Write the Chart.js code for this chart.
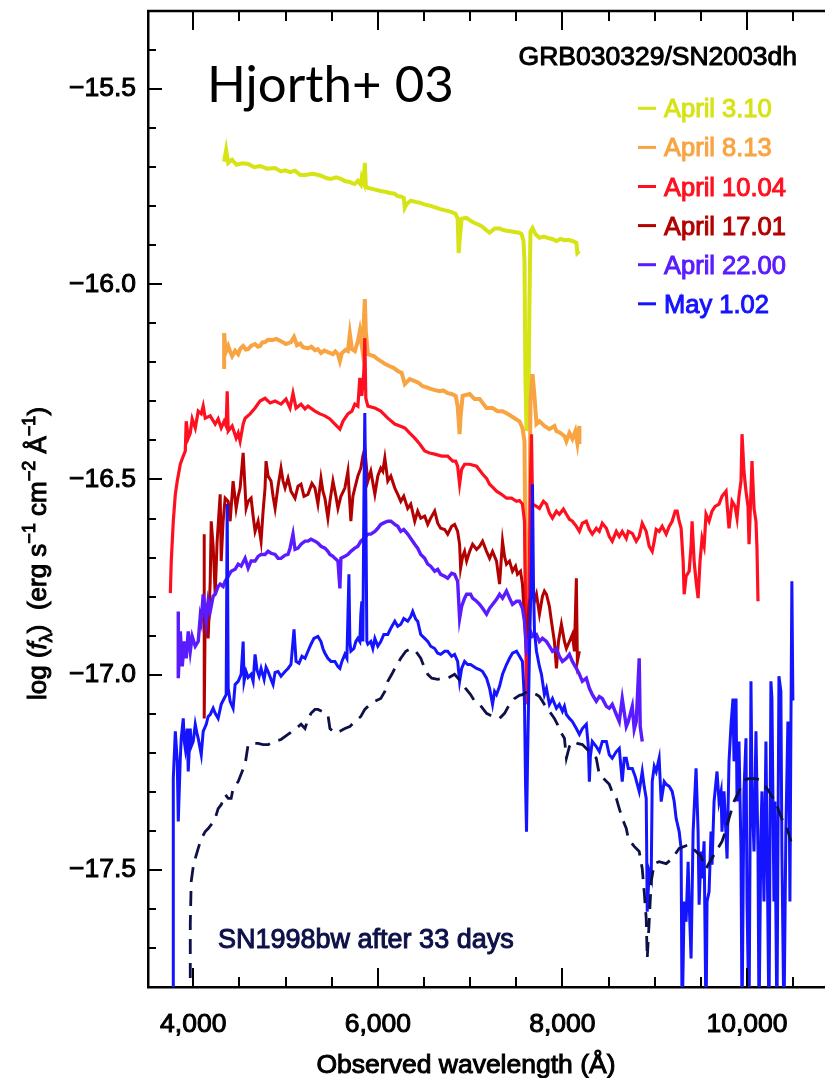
<!DOCTYPE html>
<html>
<head>
<meta charset="utf-8">
<script src="https://cdn.jsdelivr.net/npm/chart.js@4.4.1/dist/chart.umd.min.js"></script>
<style>
  html, body { margin: 0; padding: 0; background: #fff; overflow: hidden; }
  #wrap { position: relative; width: 825px; height: 1078px; }
</style>
</head>
<body>
<div id="wrap"><canvas id="spectra" width="825" height="1078"></canvas></div>
<script>
// Spectra of GRB030329 / SN2003dh, [wavelength (A), log f_lambda]
const specApr03 = [[4335,-15.686],[4357,-15.656],[4379,-15.689],[4420,-15.681],[4470,-15.694],[4530,-15.690],[4595,-15.692],[4660,-15.700],[4724,-15.697],[4800,-15.704],[4887,-15.702],[4950,-15.711],[4995,-15.708],[5050,-15.713],[5103,-15.709],[5160,-15.720],[5211,-15.720],[5300,-15.717],[5384,-15.722],[5440,-15.728],[5492,-15.730],[5550,-15.726],[5600,-15.730],[5650,-15.736],[5697,-15.738],[5730,-15.742],[5751,-15.743],[5784,-15.735],[5816,-15.745],[5827,-15.726],[5849,-15.740],[5859,-15.689],[5870,-15.748],[5892,-15.753],[5960,-15.757],[6032,-15.761],[6080,-15.763],[6130,-15.766],[6180,-15.768],[6216,-15.774],[6260,-15.776],[6281,-15.779],[6292,-15.804],[6314,-15.794],[6357,-15.786],[6410,-15.789],[6454,-15.791],[6510,-15.796],[6573,-15.799],[6620,-15.803],[6670,-15.807],[6720,-15.810],[6757,-15.812],[6800,-15.815],[6843,-15.820],[6865,-15.832],[6876,-15.920],[6886,-15.889],[6908,-15.832],[6962,-15.830],[7010,-15.838],[7049,-15.843],[7100,-15.848],[7135,-15.853],[7180,-15.862],[7211,-15.868],[7240,-15.862],[7265,-15.857],[7319,-15.857],[7360,-15.861],[7394,-15.863],[7440,-15.864],[7481,-15.866],[7530,-15.868],[7557,-15.871],[7578,-15.889],[7589,-15.940],[7600,-16.250],[7611,-16.376],[7632,-16.325],[7643,-16.043],[7654,-15.865],[7676,-15.856],[7710,-15.872],[7751,-15.881],[7800,-15.878],[7838,-15.881],[7890,-15.884],[7935,-15.889],[7980,-15.884],[8022,-15.887],[8060,-15.886],[8108,-15.889],[8151,-15.894],[8162,-15.920],[8184,-15.915]];

const specApr08 = [[4335,-16.217],[4335,-16.125],[4346,-16.160],[4357,-16.171],[4379,-16.158],[4400,-16.172],[4422,-16.184],[4454,-16.170],[4487,-16.179],[4510,-16.165],[4541,-16.158],[4570,-16.167],[4595,-16.166],[4630,-16.157],[4670,-16.153],[4700,-16.160],[4724,-16.158],[4750,-16.149],[4778,-16.148],[4810,-16.142],[4854,-16.143],[4900,-16.140],[4951,-16.146],[5005,-16.153],[5059,-16.148],[5092,-16.135],[5124,-16.156],[5160,-16.152],[5189,-16.161],[5243,-16.164],[5280,-16.160],[5319,-16.169],[5350,-16.166],[5384,-16.176],[5420,-16.170],[5459,-16.174],[5514,-16.179],[5540,-16.172],[5568,-16.179],[5589,-16.197],[5611,-16.176],[5650,-16.168],[5676,-16.171],[5697,-16.127],[5719,-16.166],[5751,-16.171],[5784,-16.146],[5805,-16.120],[5827,-16.158],[5849,-16.094],[5859,-16.038],[5870,-16.120],[5892,-16.179],[5930,-16.182],[5957,-16.184],[6000,-16.192],[6032,-16.197],[6080,-16.204],[6130,-16.210],[6170,-16.214],[6216,-16.222],[6259,-16.227],[6292,-16.256],[6346,-16.243],[6400,-16.248],[6440,-16.252],[6486,-16.261],[6530,-16.264],[6573,-16.268],[6620,-16.271],[6670,-16.274],[6710,-16.272],[6757,-16.279],[6800,-16.281],[6843,-16.286],[6865,-16.312],[6886,-16.384],[6897,-16.337],[6919,-16.286],[6995,-16.281],[7049,-16.294],[7103,-16.294],[7140,-16.305],[7178,-16.317],[7243,-16.317],[7297,-16.325],[7351,-16.325],[7390,-16.330],[7427,-16.335],[7481,-16.343],[7535,-16.351],[7567,-16.368],[7589,-16.402],[7600,-16.709],[7611,-16.915],[7622,-16.940],[7643,-16.607],[7654,-16.299],[7676,-16.230],[7697,-16.286],[7719,-16.358],[7751,-16.351],[7805,-16.363],[7859,-16.371],[7913,-16.363],[7935,-16.376],[7978,-16.381],[8022,-16.389],[8043,-16.402],[8076,-16.381],[8108,-16.396],[8140,-16.376],[8162,-16.407],[8184,-16.363],[8184,-16.409]];

const specApr10 = [[3752,-16.791],[3762,-16.709],[3784,-16.607],[3806,-16.538],[3827,-16.504],[3860,-16.461],[3892,-16.440],[3914,-16.427],[3924,-16.351],[3946,-16.394],[3968,-16.381],[3989,-16.345],[4022,-16.368],[4054,-16.325],[4087,-16.332],[4108,-16.312],[4130,-16.343],[4184,-16.337],[4238,-16.358],[4270,-16.345],[4303,-16.368],[4335,-16.351],[4357,-16.363],[4368,-16.274],[4379,-16.376],[4422,-16.363],[4465,-16.394],[4487,-16.381],[4508,-16.402],[4541,-16.358],[4562,-16.343],[4616,-16.332],[4670,-16.317],[4724,-16.299],[4778,-16.292],[4833,-16.304],[4887,-16.299],[4951,-16.307],[5005,-16.294],[5049,-16.317],[5081,-16.279],[5114,-16.317],[5168,-16.307],[5211,-16.319],[5243,-16.312],[5319,-16.325],[5373,-16.332],[5427,-16.337],[5481,-16.345],[5535,-16.358],[5589,-16.371],[5622,-16.351],[5676,-16.332],[5719,-16.325],[5751,-16.307],[5784,-16.312],[5805,-16.240],[5827,-16.286],[5849,-16.222],[5859,-16.138],[5870,-16.292],[5892,-16.312],[5968,-16.317],[6032,-16.325],[6108,-16.343],[6184,-16.358],[6238,-16.363],[6292,-16.368],[6346,-16.381],[6400,-16.394],[6454,-16.409],[6508,-16.427],[6562,-16.432],[6616,-16.435],[6692,-16.440],[6757,-16.440],[6811,-16.453],[6843,-16.453],[6865,-16.466],[6886,-16.512],[6908,-16.474],[6940,-16.461],[6995,-16.461],[7070,-16.466],[7135,-16.486],[7178,-16.497],[7211,-16.512],[7254,-16.522],[7286,-16.530],[7340,-16.538],[7394,-16.548],[7449,-16.548],[7503,-16.556],[7535,-16.554],[7567,-16.563],[7589,-16.607],[7600,-16.812],[7611,-17.076],[7622,-17.043],[7643,-16.709],[7654,-16.504],[7665,-16.384],[7676,-16.563],[7719,-16.569],[7751,-16.574],[7794,-16.556],[7827,-16.563],[7859,-16.586],[7892,-16.599],[7935,-16.581],[7967,-16.589],[8011,-16.576],[8043,-16.589],[8076,-16.602],[8108,-16.607],[8151,-16.620],[8184,-16.633],[8216,-16.612],[8259,-16.607],[8292,-16.628],[8324,-16.640],[8367,-16.625],[8400,-16.633],[8432,-16.612],[8476,-16.625],[8508,-16.646],[8540,-16.658],[8584,-16.633],[8616,-16.646],[8648,-16.633],[8692,-16.651],[8714,-16.633],[8757,-16.638],[8800,-16.658],[8832,-16.646],[8865,-16.612],[8908,-16.633],[8940,-16.671],[8973,-16.684],[8995,-16.658],[9016,-16.628],[9048,-16.633],[9081,-16.620],[9124,-16.640],[9157,-16.620],[9189,-16.607],[9222,-16.581],[9243,-16.581],[9265,-16.607],[9286,-16.625],[9308,-16.709],[9319,-16.794],[9340,-16.748],[9373,-16.735],[9394,-16.671],[9405,-16.607],[9427,-16.709],[9448,-16.761],[9470,-16.804],[9491,-16.709],[9513,-16.651],[9535,-16.671],[9556,-16.589],[9589,-16.607],[9621,-16.581],[9654,-16.569],[9697,-16.563],[9729,-16.543],[9773,-16.530],[9805,-16.625],[9838,-16.556],[9870,-16.569],[9892,-16.599],[9913,-16.543],[9935,-16.504],[9946,-16.384],[9967,-16.479],[9989,-16.530],[10011,-16.569],[10022,-16.666],[10043,-16.530],[10054,-16.453],[10076,-16.574],[10097,-16.607],[10108,-16.676],[10119,-16.812]];

const specApr17 = [[4119,-16.640],[4119,-17.112],[4130,-16.838],[4141,-16.830],[4162,-16.907],[4184,-16.761],[4195,-16.607],[4216,-16.671],[4238,-16.794],[4259,-16.658],[4292,-16.538],[4303,-16.709],[4324,-16.607],[4346,-16.548],[4379,-16.556],[4400,-16.607],[4432,-16.504],[4465,-16.574],[4487,-16.543],[4508,-16.522],[4541,-16.432],[4573,-16.574],[4595,-16.556],[4627,-16.548],[4649,-16.594],[4670,-16.633],[4703,-16.607],[4735,-16.658],[4757,-16.581],[4778,-16.522],[4789,-16.453],[4811,-16.491],[4843,-16.504],[4865,-16.543],[4887,-16.574],[4919,-16.517],[4951,-16.471],[4973,-16.504],[4995,-16.522],[5027,-16.497],[5059,-16.530],[5103,-16.548],[5135,-16.517],[5168,-16.512],[5200,-16.543],[5243,-16.538],[5286,-16.510],[5319,-16.522],[5351,-16.563],[5384,-16.497],[5405,-16.530],[5427,-16.548],[5459,-16.599],[5481,-16.556],[5514,-16.504],[5546,-16.543],[5568,-16.574],[5600,-16.543],[5643,-16.522],[5676,-16.479],[5708,-16.607],[5730,-16.543],[5751,-16.522],[5784,-16.491],[5816,-16.471],[5838,-16.440],[5859,-16.420],[5881,-16.479],[5892,-16.504],[5924,-16.479],[5968,-16.538],[6000,-16.491],[6032,-16.471],[6054,-16.479],[6076,-16.445],[6108,-16.504],[6141,-16.491],[6184,-16.522],[6216,-16.538],[6249,-16.556],[6281,-16.543],[6324,-16.574],[6357,-16.563],[6400,-16.607],[6432,-16.581],[6465,-16.599],[6508,-16.594],[6541,-16.615],[6573,-16.599],[6616,-16.581],[6649,-16.612],[6681,-16.625],[6724,-16.628],[6757,-16.640],[6800,-16.620],[6832,-16.615],[6865,-16.633],[6886,-16.666],[6897,-16.727],[6919,-16.697],[6940,-16.684],[6962,-16.709],[6995,-16.684],[7027,-16.666],[7070,-16.679],[7103,-16.671],[7135,-16.658],[7178,-16.684],[7211,-16.702],[7243,-16.684],[7286,-16.709],[7319,-16.768],[7351,-16.658],[7373,-16.697],[7394,-16.717],[7427,-16.709],[7459,-16.735],[7492,-16.722],[7513,-16.743],[7546,-16.735],[7567,-16.768],[7589,-16.856],[7611,-16.940],[7622,-16.863],[7643,-16.812],[7676,-16.786],[7697,-16.812],[7719,-16.794],[7751,-16.845],[7784,-16.799],[7805,-16.786],[7827,-16.794],[7859,-16.825],[7881,-16.863],[7913,-16.915],[7935,-16.984],[7957,-16.915],[7989,-16.871],[8022,-16.915],[8043,-16.933],[8076,-16.915],[8108,-16.897],[8130,-16.940],[8151,-16.753],[8162,-16.966],[8184,-16.940]];

const specApr22 = [[3838,-16.838],[3838,-17.009],[3860,-16.889],[3881,-16.979],[3903,-16.915],[3924,-16.958],[3946,-16.889],[3968,-16.940],[3989,-16.902],[4022,-16.927],[4054,-16.915],[4076,-16.851],[4087,-16.863],[4108,-16.794],[4130,-16.838],[4141,-16.863],[4162,-16.812],[4184,-16.838],[4216,-16.799],[4238,-16.794],[4270,-16.774],[4292,-16.768],[4324,-16.774],[4346,-16.761],[4379,-16.748],[4411,-16.735],[4454,-16.730],[4487,-16.717],[4519,-16.722],[4562,-16.702],[4595,-16.727],[4627,-16.709],[4670,-16.709],[4703,-16.697],[4735,-16.692],[4778,-16.692],[4811,-16.684],[4843,-16.689],[4887,-16.692],[4919,-16.702],[4951,-16.702],[4995,-16.694],[5027,-16.692],[5049,-16.676],[5081,-16.640],[5103,-16.679],[5135,-16.676],[5168,-16.666],[5211,-16.658],[5243,-16.658],[5276,-16.653],[5319,-16.658],[5351,-16.663],[5384,-16.671],[5427,-16.676],[5459,-16.684],[5481,-16.692],[5514,-16.697],[5535,-16.702],[5568,-16.709],[5589,-16.779],[5600,-16.702],[5643,-16.697],[5676,-16.692],[5708,-16.684],[5751,-16.676],[5784,-16.671],[5816,-16.658],[5849,-16.651],[5892,-16.640],[5924,-16.640],[5968,-16.633],[6000,-16.625],[6032,-16.615],[6076,-16.610],[6108,-16.607],[6141,-16.607],[6184,-16.615],[6216,-16.620],[6249,-16.633],[6281,-16.628],[6324,-16.640],[6357,-16.651],[6400,-16.666],[6432,-16.676],[6465,-16.692],[6508,-16.702],[6541,-16.717],[6573,-16.722],[6616,-16.735],[6649,-16.730],[6681,-16.743],[6724,-16.748],[6757,-16.753],[6800,-16.740],[6832,-16.743],[6865,-16.761],[6886,-16.856],[6908,-16.825],[6940,-16.804],[6962,-16.794],[7005,-16.794],[7027,-16.804],[7070,-16.812],[7103,-16.820],[7135,-16.830],[7178,-16.845],[7211,-16.830],[7243,-16.820],[7286,-16.807],[7319,-16.794],[7351,-16.804],[7394,-16.786],[7427,-16.804],[7459,-16.820],[7503,-16.812],[7535,-16.812],[7567,-16.830],[7589,-16.863],[7611,-16.940],[7632,-16.928],[7654,-16.889],[7676,-16.902],[7719,-16.897],[7751,-16.915],[7784,-16.907],[7827,-16.915],[7859,-16.927],[7892,-16.940],[7935,-16.933],[7967,-16.953],[8000,-16.966],[8043,-16.958],[8076,-16.948],[8108,-16.966],[8151,-16.984],[8184,-16.999],[8216,-17.017],[8259,-17.009],[8292,-17.035],[8324,-17.051],[8367,-17.068],[8400,-17.056],[8432,-17.061],[8476,-17.081],[8508,-17.086],[8540,-17.076],[8584,-17.102],[8616,-17.120],[8648,-17.061],[8692,-17.133],[8714,-17.120],[8757,-17.081],[8778,-17.140],[8800,-17.120],[8832,-16.958],[8843,-17.133],[8865,-17.171]];

const specMay01 = [[3784,-17.900],[3784,-17.266],[3806,-17.145],[3827,-17.222],[3838,-17.376],[3860,-17.214],[3870,-17.163],[3892,-17.112],[3903,-17.171],[3914,-17.189],[3935,-17.138],[3946,-17.248],[3968,-17.138],[3978,-17.184],[4000,-17.171],[4022,-17.127],[4043,-17.153],[4054,-17.163],[4087,-17.205],[4108,-17.145],[4141,-17.127],[4162,-17.107],[4184,-17.102],[4216,-17.086],[4238,-17.099],[4270,-17.112],[4303,-17.076],[4335,-17.061],[4357,-17.051],[4368,-16.563],[4379,-17.035],[4400,-17.068],[4432,-17.086],[4454,-17.025],[4487,-17.017],[4519,-16.999],[4541,-16.915],[4551,-17.017],[4573,-16.992],[4595,-17.007],[4627,-16.999],[4649,-17.017],[4670,-16.948],[4692,-16.989],[4714,-17.004],[4735,-16.984],[4768,-17.012],[4789,-16.981],[4811,-16.992],[4843,-17.012],[4865,-17.025],[4887,-16.994],[4919,-16.992],[4951,-17.004],[4995,-16.992],[5027,-16.984],[5059,-16.974],[5092,-16.884],[5114,-16.966],[5146,-16.971],[5178,-16.953],[5211,-16.958],[5243,-16.940],[5276,-16.922],[5308,-16.907],[5351,-16.902],[5384,-16.915],[5405,-16.933],[5427,-16.945],[5459,-16.958],[5492,-16.966],[5535,-16.966],[5568,-16.979],[5589,-16.984],[5611,-16.966],[5643,-16.948],[5665,-16.958],[5687,-16.743],[5697,-16.915],[5708,-16.940],[5741,-16.933],[5762,-16.915],[5784,-16.907],[5805,-16.915],[5816,-16.845],[5827,-16.812],[5838,-16.915],[5849,-16.556],[5859,-16.330],[5870,-16.556],[5881,-16.915],[5892,-16.922],[5924,-16.915],[5946,-16.933],[5968,-16.907],[6000,-16.927],[6032,-16.915],[6065,-16.897],[6108,-16.897],[6141,-16.881],[6184,-16.863],[6216,-16.876],[6249,-16.871],[6281,-16.856],[6324,-16.863],[6357,-16.851],[6378,-16.838],[6411,-16.858],[6432,-16.863],[6465,-16.897],[6508,-16.907],[6541,-16.915],[6573,-16.927],[6616,-16.933],[6649,-16.945],[6681,-16.948],[6724,-16.940],[6757,-16.940],[6800,-16.953],[6832,-16.948],[6865,-16.966],[6886,-17.017],[6908,-16.984],[6940,-16.966],[6973,-16.974],[7005,-16.974],[7038,-16.979],[7070,-16.984],[7103,-16.987],[7135,-16.992],[7178,-17.009],[7211,-17.035],[7243,-17.076],[7265,-17.043],[7286,-17.051],[7319,-17.030],[7351,-16.999],[7394,-16.974],[7427,-16.958],[7459,-16.945],[7503,-16.940],[7535,-16.953],[7567,-16.966],[7589,-17.068],[7600,-17.274],[7611,-17.402],[7622,-17.222],[7643,-16.940],[7665,-16.709],[7676,-16.512],[7686,-16.761],[7697,-16.889],[7719,-16.940],[7751,-16.979],[7773,-16.999],[7805,-17.051],[7827,-17.035],[7859,-17.076],[7892,-17.061],[7935,-17.086],[7967,-17.076],[8000,-17.094],[8022,-17.081],[8043,-17.102],[8076,-17.112],[8108,-17.120],[8151,-17.138],[8184,-17.153],[8216,-17.138],[8259,-17.127],[8281,-17.184],[8292,-17.274],[8303,-17.209],[8324,-17.171],[8367,-17.184],[8400,-17.197],[8432,-17.171],[8476,-17.171],[8508,-17.205],[8540,-17.214],[8584,-17.197],[8616,-17.189],[8648,-17.274],[8670,-17.214],[8692,-17.214],[8714,-17.240],[8757,-17.240],[8789,-17.261],[8832,-17.299],[8865,-17.248],[8886,-17.286],[8908,-17.317],[8919,-17.607],[8940,-17.504],[8962,-17.522],[8973,-17.274],[8995,-17.235],[9016,-17.248],[9048,-17.214],[9070,-17.325],[9103,-17.274],[9124,-17.281],[9157,-17.286],[9189,-17.299],[9211,-17.325],[9232,-17.368],[9265,-17.402],[9286,-17.445],[9297,-17.900],[9319,-17.581],[9340,-17.633],[9362,-17.479],[9373,-17.581],[9394,-17.727],[9416,-17.402],[9448,-17.240],[9470,-17.402],[9481,-17.589],[9502,-17.453],[9513,-17.522],[9535,-17.427],[9556,-17.900],[9567,-17.581],[9589,-17.556],[9610,-17.402],[9621,-17.487],[9643,-17.325],[9675,-17.248],[9697,-17.325],[9719,-17.299],[9729,-17.402],[9751,-17.299],[9784,-17.471],[9805,-17.222],[9827,-17.127],[9848,-17.061],[9859,-17.222],[9881,-17.061],[9892,-17.325],[9913,-17.171],[9935,-17.453],[9946,-17.900],[9967,-17.299],[9989,-17.163],[10000,-17.581],[10022,-17.900],[10043,-17.017],[10054,-17.299],[10076,-17.453],[10097,-17.145],[10119,-17.453],[10130,-17.900],[10151,-17.402],[10162,-17.299],[10184,-17.581],[10205,-17.171],[10216,-17.402],[10238,-17.900],[10259,-17.017],[10270,-17.061],[10292,-17.581],[10302,-17.325],[10324,-17.900],[10346,-17.004],[10367,-17.043],[10378,-17.453],[10400,-17.900],[10421,-17.402],[10443,-17.120],[10454,-17.214],[10465,-17.581],[10476,-17.120],[10486,-16.761],[10497,-17.066]];

// Comparison: SN1998bw 33 days after burst (dashed)
const specSN98bw = [[3968,-17.900],[3968,-17.742],[3968,-17.640],[3978,-17.530],[4000,-17.492],[4022,-17.471],[4054,-17.445],[4087,-17.420],[4130,-17.402],[4162,-17.394],[4195,-17.384],[4238,-17.368],[4270,-17.343],[4303,-17.333],[4346,-17.307],[4379,-17.317],[4411,-17.317],[4432,-17.291],[4487,-17.274],[4530,-17.248],[4562,-17.230],[4595,-17.179],[4649,-17.176],[4703,-17.176],[4757,-17.179],[4811,-17.179],[4887,-17.171],[4951,-17.166],[5027,-17.153],[5103,-17.140],[5168,-17.127],[5211,-17.138],[5243,-17.115],[5276,-17.099],[5319,-17.089],[5351,-17.089],[5395,-17.094],[5459,-17.102],[5481,-17.138],[5535,-17.150],[5589,-17.145],[5643,-17.138],[5697,-17.133],[5751,-17.120],[5816,-17.107],[5859,-17.089],[5914,-17.076],[5968,-17.068],[6032,-17.061],[6076,-17.043],[6108,-17.017],[6151,-16.999],[6195,-16.979],[6249,-16.958],[6303,-16.940],[6357,-16.933],[6411,-16.940],[6465,-16.958],[6508,-16.984],[6541,-16.999],[6584,-17.009],[6649,-17.012],[6714,-17.009],[6757,-17.009],[6832,-16.999],[6897,-17.017],[6951,-17.035],[7005,-17.051],[7049,-17.068],[7103,-17.076],[7178,-17.099],[7243,-17.107],[7319,-17.112],[7373,-17.099],[7427,-17.076],[7481,-17.061],[7535,-17.053],[7567,-17.051],[7622,-17.043],[7676,-17.048],[7719,-17.051],[7751,-17.056],[7805,-17.076],[7859,-17.094],[7913,-17.112],[7946,-17.127],[7989,-17.150],[8022,-17.163],[8043,-17.214],[8076,-17.184],[8108,-17.171],[8162,-17.176],[8216,-17.179],[8292,-17.197],[8367,-17.214],[8400,-17.256],[8454,-17.268],[8508,-17.281],[8551,-17.307],[8584,-17.317],[8616,-17.343],[8648,-17.368],[8692,-17.394],[8714,-17.420],[8778,-17.440],[8832,-17.453],[8865,-17.497],[8886,-17.556],[8908,-17.625],[8919,-17.727],[8940,-17.633],[8962,-17.530],[8995,-17.484],[9048,-17.479],[9124,-17.484],[9189,-17.471],[9265,-17.445],[9319,-17.440],[9373,-17.435],[9448,-17.453],[9502,-17.466],[9556,-17.497],[9610,-17.474],[9665,-17.453],[9729,-17.427],[9773,-17.397],[9805,-17.368],[9859,-17.325],[9913,-17.299],[9946,-17.281],[9989,-17.268],[10022,-17.266],[10076,-17.266],[10130,-17.268],[10184,-17.281],[10238,-17.299],[10270,-17.312],[10313,-17.325],[10346,-17.350],[10389,-17.376],[10421,-17.384],[10454,-17.409],[10476,-17.427]];

const seriesLabels = ['April 3.10', 'April 8.13', 'April 10.04', 'April 17.01', 'April 22.00', 'May 1.02'];
const seriesColors = ['#d6e315', '#f9a443', '#ff1020', '#b30000', '#5a1cff', '#1414ff'];
const seriesData = [specApr03, specApr08, specApr10, specApr17, specApr22, specMay01];
const seriesWidths = [4, 4, 3.2, 3, 3.4, 3];

const xTickValues = [4000, 6000, 8000, 10000];
const xMinorValues = [4500, 5000, 5500, 6500, 7000, 7500, 8500, 9000, 9500, 10500];
const yTickValues = [-17.5, -17.0, -16.5, -16.0, -15.5];
const yMinorValues = [-17.7, -17.6, -17.4, -17.3, -17.2, -17.1, -16.9, -16.8, -16.7, -16.6, -16.4, -16.3, -16.2, -16.1, -15.9, -15.8, -15.7, -15.6, -15.4];

const FONT = '"Liberation Sans", Arial, Helvetica, sans-serif';
const NAVY = '#0d1148';

function toPoints(pairs) {
    return pairs.map(p => ({ x: p[0], y: p[1] }));
}

function drawText(ctx, text, x, y, font, color, align) {
    ctx.font = font;
    ctx.fillStyle = color;
    ctx.strokeStyle = color;
    ctx.lineWidth = 1;
    ctx.textAlign = align || 'left';
    ctx.textBaseline = 'alphabetic';
    ctx.fillText(text, x, y);
    ctx.strokeText(text, x, y);
}

// frame on top + inward tick marks on bottom, top and left axes
const frameTicks = {
    id: 'frameTicks',
    afterDraw(chart) {
        const { ctx, chartArea: a, scales: { x, y } } = chart;
        ctx.save();
        ctx.strokeStyle = '#000';
        ctx.lineWidth = 2.5;
        ctx.beginPath();
        ctx.moveTo(a.left - 1, a.top);
        ctx.lineTo(a.right, a.top);
        ctx.stroke();

        ctx.lineWidth = 2;
        ctx.beginPath();
        const xTick = (v, len) => {
            const px = Math.round(x.getPixelForValue(v));
            ctx.moveTo(px, a.bottom);
            ctx.lineTo(px, a.bottom - len);
            ctx.moveTo(px, a.top);
            ctx.lineTo(px, a.top + len);
        };
        const yTick = (v, len) => {
            const py = Math.round(y.getPixelForValue(v));
            ctx.moveTo(a.left, py);
            ctx.lineTo(a.left + len, py);
        };
        xTickValues.forEach(v => xTick(v, 19));
        xMinorValues.forEach(v => xTick(v, 10));
        yTickValues.forEach(v => yTick(v, 14));
        yMinorValues.forEach(v => yTick(v, 8));
        ctx.stroke();
        ctx.restore();
    }
};

// legend, labels and axis titles
const annotations = {
    id: 'annotations',
    afterDraw(chart) {
        const ctx = chart.ctx;
        ctx.save();

        ctx.font = '51px Lato, "Open Sans", sans-serif';
        ctx.fillStyle = '#000';
        ctx.textAlign = 'left';
        ctx.textBaseline = 'alphabetic';
        ctx.fillText('Hjorth+ 03', 207, 102);

        drawText(ctx, 'GRB030329/SN2003dh', 797, 65, '26.5px ' + FONT, '#000', 'right');

        seriesLabels.forEach((label, i) => {
            const yy = 108.3 + i * 39.1;
            ctx.strokeStyle = seriesColors[i];
            ctx.lineWidth = 3;
            ctx.beginPath();
            ctx.moveTo(638, yy);
            ctx.lineTo(656, yy);
            ctx.stroke();
            drawText(ctx, label, 664, yy + 9, '25.5px ' + FONT, seriesColors[i], 'left');
        });

        drawText(ctx, 'SN1998bw after 33 days', 218, 948, '27px ' + FONT, NAVY, 'left');

        drawText(ctx, 'Observed wavelength (\u00c5)', 466, 1073, '26.5px ' + FONT, '#000', 'center');

        // y axis title with italic f, subscript lambda and superscripts
        const runs = [
            { t: 'log (', k: 'n' }, { t: 'f', k: 'i' }, { t: '\u03bb', k: 'sub' },
            { t: ')  (erg s', k: 'n' }, { t: '\u22121', k: 'sup' },
            { t: ' cm', k: 'n' }, { t: '\u22122', k: 'sup' },
            { t: ' \u00c5', k: 'n' }, { t: '\u22121', k: 'sup' }, { t: ')', k: 'n' }
        ];
        ctx.translate(46, 700);
        ctx.rotate(-Math.PI / 2);
        let cx = 0;
        runs.forEach(r => {
            let font = '26px ' + FONT;
            let dy = 0;
            if (r.k === 'i') font = 'italic 26px ' + FONT;
            if (r.k === 'sub') { font = '18px ' + FONT; dy = 6; }
            if (r.k === 'sup') { font = '18px ' + FONT; dy = -11; }
            drawText(ctx, r.t, cx, dy, font, '#000', 'left');
            cx += ctx.measureText(r.t).width;
        });
        ctx.restore();
    }
};

const datasets = seriesData.map((d, i) => ({
    label: seriesLabels[i],
    data: toPoints(d),
    borderColor: seriesColors[i],
    borderWidth: seriesWidths[i],
    borderJoinStyle: 'miter',
    pointRadius: 0,
    tension: 0,
    fill: false,
    order: 6 - i
}));
datasets.push({
    label: 'SN1998bw',
    data: toPoints(specSN98bw),
    borderColor: NAVY,
    borderWidth: 2.8,
    borderDash: [15, 9],
    pointRadius: 0,
    tension: 0,
    fill: false,
    order: 0
});

new Chart(document.getElementById('spectra'), {
    type: 'line',
    data: { datasets: datasets },
    options: {
        responsive: false,
        animation: false,
        devicePixelRatio: 1,
        layout: { padding: { top: 11, right: 0, left: 0, bottom: 0 } },
        plugins: {
            legend: { display: false },
            tooltip: { enabled: false }
        },
        scales: {
            x: {
                type: 'linear',
                min: 3510,
                max: 10845,
                grid: { display: false, drawTicks: false },
                border: { display: true, color: '#000', width: 2.5 },
                afterBuildTicks: scale => { scale.ticks = xTickValues.map(v => ({ value: v })); },
                afterFit: scale => {
                    scale.height = 91;
                    scale.paddingLeft = 0;
                    scale.paddingRight = 0;
                },
                ticks: {
                    padding: 22,
                    maxRotation: 0,
                    autoSkip: false,
                    color: '#000',
                    textStrokeColor: '#000',
                    textStrokeWidth: 1,
                    font: { family: FONT, size: 26.5 },
                    callback: v => v.toLocaleString('en-US')
                }
            },
            y: {
                type: 'linear',
                min: -17.8,
                max: -15.3,
                grid: { display: false, drawTicks: false },
                border: { display: true, color: '#000', width: 2.5 },
                afterBuildTicks: scale => { scale.ticks = yTickValues.map(v => ({ value: v })); },
                afterFit: scale => {
                    scale.width = 148;
                    scale.paddingTop = 0;
                    scale.paddingBottom = 0;
                },
                ticks: {
                    padding: 12,
                    autoSkip: false,
                    color: '#000',
                    textStrokeColor: '#000',
                    textStrokeWidth: 1,
                    font: { family: FONT, size: 26.5 },
                    callback: v => '\u2212' + Math.abs(v).toFixed(1)
                }
            }
        }
    },
    plugins: [frameTicks, annotations]
});
</script>
</body>
</html>
